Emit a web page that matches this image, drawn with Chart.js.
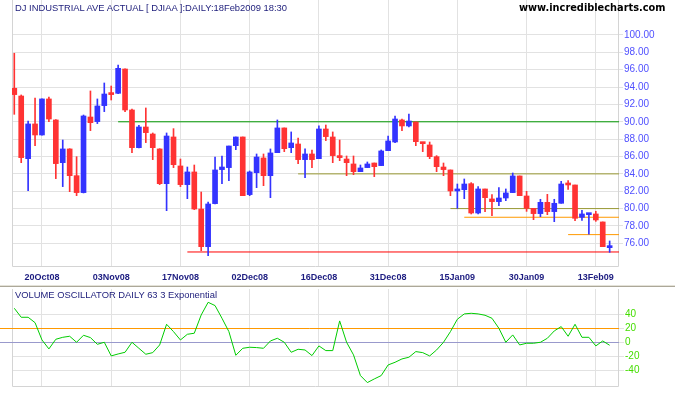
<!DOCTYPE html>
<html>
<head>
<meta charset="utf-8">
<script src="https://cdn.jsdelivr.net/npm/chart.js@4.4.1/dist/chart.umd.min.js"></script>
<style>
  body { margin: 0; background: #fff; width: 675px; height: 395px; position: relative; overflow: hidden; }
  .box { position: absolute; left: 0; width: 675px; }
  .txt { position: absolute; white-space: nowrap; line-height: 10px; }
  .title { font: 9.4px "Liberation Sans", Arial, sans-serif; color: #1c1c7a; }
  .site { font: bold 9.8px "DejaVu Sans", Verdana, sans-serif; color: #000; }
  .sep { position: absolute; left: 0; top: 285px; width: 675px; height: 0; border-top: 1px solid #e4e2d8; border-bottom: 1px solid #aca899; }
</style>
</head>
<body>
<div class="box" style="top:0;height:285px"><canvas id="prix" width="675" height="285"></canvas></div>
<div class="sep"></div>
<div class="box" style="top:287px;height:108px"><canvas id="osc" width="675" height="108"></canvas></div>
<div class="txt title" style="left:15px;top:2px">DJ INDUSTRIAL AVE ACTUAL [ DJIAA ]:DAILY:18Feb2009 18:30</div>
<div class="txt site" style="left:519px;top:2px">www.incrediblecharts.com</div>
<div class="txt title" style="left:15px;top:289px">VOLUME OSCILLATOR DAILY 63 3 Exponential</div>
<script>
// Données (DJIA / 100)
const dates = [
  '14Oct08','15Oct08','16Oct08','17Oct08','20Oct08','21Oct08','22Oct08','23Oct08','24Oct08','27Oct08','28Oct08','29Oct08','30Oct08','31Oct08',
  '03Nov08','04Nov08','05Nov08','06Nov08','07Nov08','10Nov08','11Nov08','12Nov08','13Nov08','14Nov08','17Nov08','18Nov08','19Nov08','20Nov08','21Nov08','24Nov08','25Nov08','26Nov08','28Nov08',
  '01Dec08','02Dec08','03Dec08','04Dec08','05Dec08','08Dec08','09Dec08','10Dec08','11Dec08','12Dec08','15Dec08','16Dec08','17Dec08','18Dec08','19Dec08','22Dec08','23Dec08','24Dec08','26Dec08','29Dec08','30Dec08','31Dec08',
  '02Jan09','05Jan09','06Jan09','07Jan09','08Jan09','09Jan09','12Jan09','13Jan09','14Jan09','15Jan09','16Jan09','20Jan09','21Jan09','22Jan09','23Jan09','26Jan09','27Jan09','28Jan09','29Jan09','30Jan09',
  '02Feb09','03Feb09','04Feb09','05Feb09','06Feb09','09Feb09','10Feb09','11Feb09','12Feb09','13Feb09','17Feb09','18Feb09'
];
const opens = [
  93.86, 92.97, 85.75, 89.75, 88.48, 92.63, 90.21, 85.29, 86.87, 83.79, 81.84, 90.55, 90.02, 91.86,
  93.20, 93.28, 96.08, 91.36, 87.02, 89.40, 88.59, 86.87, 82.87, 88.25, 84.91, 82.76, 84.22, 79.95, 75.61, 80.57, 84.49, 84.72, 87.25,
  88.25, 81.61, 84.14, 85.83, 83.79, 86.44, 89.29, 87.02, 87.44, 85.64, 86.29, 85.75, 89.17, 88.25, 86.06, 85.71, 85.14, 84.25, 84.72, 85.25, 84.95, 86.67,
  87.67, 90.21, 89.52, 89.98, 87.64, 87.33, 85.98, 84.79, 84.45, 82.03, 82.18, 82.87, 79.49, 82.26, 81.11, 80.80, 81.22, 81.84, 83.76, 81.45,
  80.03, 79.42, 80.72, 79.65, 80.61, 82.87, 82.72, 78.99, 79.30, 79.38, 78.46, 75.50
];
const highs = [
  97.89, 93.09, 90.09, 92.74, 92.65, 92.86, 90.25, 87.90, 86.90, 85.98, 90.78, 93.55, 92.63, 94.47,
  94.12, 96.54, 96.10, 91.47, 89.59, 91.59, 88.71, 86.90, 88.71, 89.21, 85.71, 84.79, 85.02, 81.91, 80.76, 85.94, 86.06, 87.21, 88.25,
  88.25, 84.33, 86.29, 86.29, 86.87, 90.21, 89.29, 88.83, 88.13, 86.87, 86.75, 89.52, 89.63, 88.83, 87.90, 86.06, 86.06, 85.02, 85.37, 85.25, 86.75, 88.36,
  90.67, 90.32, 90.90, 89.98, 87.64, 87.67, 86.10, 85.25, 84.45, 82.83, 83.41, 82.99, 82.53, 82.26, 81.61, 82.41, 82.26, 84.10, 83.76, 81.99,
  80.03, 81.07, 81.64, 81.07, 83.14, 83.22, 82.72, 79.80, 79.38, 79.69, 78.46, 76.27
];
const lows = [
  90.86, 85.29, 82.07, 87.25, 88.45, 90.02, 83.45, 82.53, 81.95, 81.49, 81.80, 88.98, 89.79, 91.17,
  92.51, 93.25, 91.17, 86.44, 87.00, 87.60, 85.64, 82.76, 79.76, 84.72, 82.53, 81.14, 79.88, 75.15, 74.58, 80.55, 82.87, 83.22, 86.79,
  81.49, 81.49, 82.41, 82.64, 81.26, 86.44, 86.56, 86.44, 85.18, 83.56, 84.72, 85.75, 87.83, 85.29, 85.52, 83.79, 83.91, 84.25, 84.72, 83.68, 84.95, 86.67,
  87.60, 88.98, 89.40, 87.25, 86.56, 85.75, 84.25, 83.79, 81.49, 80.03, 81.14, 79.38, 79.38, 79.64, 79.19, 80.34, 80.91, 81.84, 81.49, 79.68,
  78.72, 79.07, 79.30, 78.49, 80.61, 82.22, 78.61, 78.65, 77.04, 78.53, 75.61, 74.96
];
const closes = [
  93.13, 85.87, 89.75, 88.48, 92.63, 90.32, 85.18, 86.87, 83.79, 81.84, 90.67, 89.90, 91.82, 93.20,
  93.13, 96.16, 91.36, 87.02, 89.40, 88.75, 87.02, 82.87, 88.36, 85.06, 82.76, 84.22, 79.95, 75.61, 80.53, 84.45, 84.79, 87.21, 88.25,
  81.49, 84.22, 85.94, 83.79, 86.41, 89.29, 86.90, 87.56, 85.64, 86.29, 85.64, 89.17, 88.29, 86.10, 85.87, 85.29, 84.25, 84.68, 85.14, 84.83, 86.64, 87.79,
  90.32, 89.52, 90.09, 87.71, 87.48, 85.98, 84.83, 84.49, 82.03, 82.10, 82.83, 79.49, 82.26, 81.26, 80.80, 81.22, 81.80, 83.76, 81.49, 80.03,
  79.42, 80.72, 79.65, 80.61, 82.83, 82.72, 78.88, 79.38, 79.38, 78.69, 75.61, 75.57
];
const oscValues = [
  48.6, 35.7, 35.7, 28, 3.3, -9.5, 4.3, 7.1, 8.6, 0,
  10, 6.7, -2.9, 0, -19.5, -16.7, -14.3, 0, -8.6, -17.1,
  -14.8, -3.8, 25.7, 15.2, 3.3, 11.4, 12.9, 39, 57.1, 52.4,
  34.3, 15.2, -18.6, -8.6, -7.1, -7.6, -8.6, 1.9, 5.7, 0,
  -14.3, -10, -11, -19, -5.2, -11.9, -11.9, 30.5, 0, -18,
  -47.6, -57.6, -52.4, -47.6, -32.4, -28.6, -23.8, -21.4, -13.3, -14.8,
  -19.5, -11, 0, 15.2, 32.9, 40.5, 41.4, 40.5, 38.6, 34.3,
  20, 0, 10.5, -3.8, -1.4, -1.4, 0, 5.7, 16.2, 22.4,
  8.6, 25.7, 7.1, 7.1, -5.2, 1.9, -4.3
];
// Lignes de support / résistance : niveau et date de départ
const levelValues = [90, 84, 80, 79, 77, 75];
const levelStarts = ['04Nov08', '11Dec08', '14Jan09', '16Jan09', '09Feb09', '18Nov08'];
// Lignes de référence de l'oscillateur
const oscLevels = [20, 0];
// Graduations
const tickLabels = ['20Oct08','03Nov08','17Nov08','02Dec08','16Dec08','31Dec08','15Jan09','30Jan09','13Feb09'];
const priceTicks = [76, 78, 80, 82, 84, 86, 88, 90, 92, 94, 96, 98, 100];
const oscTicks = [-40, -20, 0, 20, 40];

// Styles
const FONT = '"Liberation Sans", Arial, sans-serif';
const GRID = '#e2e2e2';
const FRAME = '#d4d4d4';
const levelColors = ['#009900', '#999933', '#999933', '#ff9900', '#ff9900', '#ff0000'];
const oscLevelColors = ['#ff9900', '#9999cc'];
const X_MIN = -0.33, X_MAX = 87.35;

Chart.defaults.font.family = FONT;

const tickIndex = tickLabels.map(l => dates.indexOf(l));
const couleurs = dates.map((d, i) => closes[i] >= opens[i] ? '#3333ff' : '#ff3333');

// Cadre gauche / bas / droit de la zone de tracé
const cadre = {
  id: 'cadre',
  beforeDatasetsDraw(chart) {
    const { ctx, chartArea: a } = chart;
    ctx.save();
    ctx.strokeStyle = FRAME;
    ctx.lineWidth = 1;
    ctx.beginPath();
    ctx.moveTo(Math.round(a.left) + 0.5, a.top);
    ctx.lineTo(Math.round(a.left) + 0.5, Math.round(a.bottom) - 0.5);
    ctx.lineTo(Math.round(a.right) - 0.5, Math.round(a.bottom) - 0.5);
    ctx.lineTo(Math.round(a.right) - 0.5, a.top);
    ctx.stroke();
    ctx.restore();
  }
};

// Lignes horizontales de l'oscillateur (partent du bord gauche)
const lignesOsc = {
  id: 'lignesOsc',
  beforeDatasetsDraw(chart) {
    const { ctx, chartArea: a, scales } = chart;
    oscLevels.forEach((v, k) => {
      const py = Math.round(scales.y.getPixelForValue(v)) + 0.5;
      ctx.save();
      ctx.strokeStyle = oscLevelColors[k];
      ctx.lineWidth = 1;
      ctx.beginPath();
      ctx.moveTo(0, py);
      ctx.lineTo(a.right, py);
      ctx.stroke();
      ctx.restore();
    });
  }
};

function axeX(avecLabels) {
  return {
    type: 'linear',
    min: X_MIN,
    max: X_MAX,
    offset: false,
    afterBuildTicks: s => { s.ticks = tickIndex.map(v => ({ value: v })); },
    ticks: {
      display: avecLabels,
      autoSkip: false,
      maxRotation: 0,
      padding: 5,
      color: '#1c1c80',
      font: { size: 9, weight: 'bold' },
      callback: v => dates[v]
    },
    grid: { color: GRID, drawTicks: false, offset: false },
    border: { display: false },
    afterFit: s => {
      s.height = avecLabels ? 18 : 8;
      s.paddingLeft = 0;
      s.paddingRight = 0;
    }
  };
}

function axeY(min, max, ticks, couleur, tickLength, format) {
  return {
    position: 'right',
    min: min,
    max: max,
    afterBuildTicks: s => { s.ticks = ticks.map(v => ({ value: v })); },
    ticks: { color: couleur, padding: 1, font: { size: 10 }, callback: format },
    grid: { color: GRID, tickLength: tickLength },
    border: { display: false },
    afterFit: s => {
      s.width = 56;
      s.paddingTop = 0;
      s.paddingBottom = 0;
    }
  };
}

// Graphique des cours (chandeliers)
new Chart(document.getElementById('prix'), {
  type: 'bar',
  data: {
    datasets: [
      {
        data: dates.map((d, i) => ({ x: i, y: [opens[i], closes[i]] })),
        backgroundColor: couleurs,
        barThickness: 5,
        minBarLength: 2,
        grouped: false,
        order: 0
      },
      {
        data: dates.map((d, i) => ({ x: i, y: [lows[i], highs[i]] })),
        backgroundColor: couleurs,
        barThickness: 1,
        grouped: false,
        order: 1
      },
      ...levelValues.map((v, k) => ({
        type: 'line',
        data: [{ x: dates.indexOf(levelStarts[k]), y: v }, { x: X_MAX, y: v }],
        borderColor: levelColors[k],
        borderWidth: 1,
        pointRadius: 0,
        order: 2
      }))
    ]
  },
  options: {
    responsive: false,
    animation: false,
    layout: { padding: { left: 12, top: 0, right: 0, bottom: 0 } },
    plugins: { legend: { display: false }, tooltip: { enabled: false } },
    scales: {
      x: axeX(true),
      y: axeY(73.27, 104.03, priceTicks, '#5050ff', 4, v => v.toFixed(2))
    }
  },
  plugins: [cadre]
});

// Oscillateur de volume
new Chart(document.getElementById('osc'), {
  type: 'line',
  data: {
    datasets: [{
      data: oscValues.map((v, i) => ({ x: i, y: v })),
      borderColor: '#00cc00',
      borderWidth: 1,
      pointRadius: 0,
      tension: 0
    }]
  },
  options: {
    responsive: false,
    animation: false,
    layout: { padding: { left: 12, top: 2, right: 0, bottom: 0 } },
    plugins: { legend: { display: false }, tooltip: { enabled: false } },
    scales: {
      x: axeX(false),
      y: axeY(-63.9, 76.1, oscTicks, '#44dd00', 5, v => String(v))
    }
  },
  plugins: [cadre, lignesOsc]
});
</script>
</body>
</html>
